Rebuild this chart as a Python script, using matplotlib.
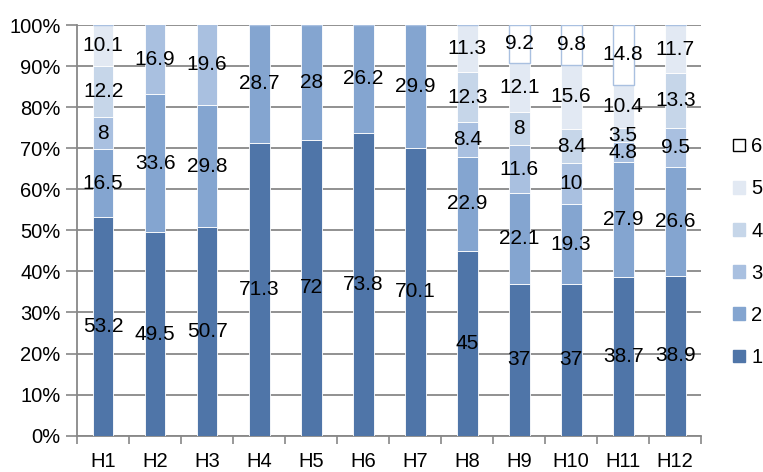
import numpy as np
import matplotlib.pyplot as plt
from matplotlib.patches import Patch
from matplotlib.ticker import PercentFormatter

plt.rcParams['font.family'] = ['Liberation Sans', 'DejaVu Sans']

groups = ['H1', 'H2', 'H3', 'H4', 'H5', 'H6', 'H7', 'H8', 'H9', 'H10', 'H11', 'H12']
series_names = ['1', '2', '3', '4', '5', '6']

s1 = [53.2, 49.5, 50.7, 71.3, 72, 73.8, 70.1, 45, 37, 37, 38.7, 38.9]
s2 = [16.5, 33.6, 29.8, 28.7, 28, 26.2, 29.9, 22.9, 22.1, 19.3, 27.9, 26.6]
s3 = [8, 16.9, 19.6, 0, 0, 0, 0, 8.4, 11.6, 10, 4.8, 9.5]
s4 = [12.2, 0, 0, 0, 0, 0, 0, 12.3, 8, 8.4, 3.5, 13.3]
s5 = [10.1, 0, 0, 0, 0, 0, 0, 11.3, 12.1, 15.6, 10.4, 11.7]
s6 = [0, 0, 0, 0, 0, 0, 0, 0, 9.2, 9.8, 14.8, 0]

series = [s1, s2, s3, s4, s5, s6]
fills = ['#4f75a8', '#84a5d0', '#a9c0e0', '#c6d6e9', '#e2e9f3', 'white']
edges = ['white', 'white', 'white', 'white', 'white', '#a9c0e0']

fig, ax = plt.subplots(figsize=(7.63, 4.72), dpi=100)
fig.subplots_adjust(left=0.101, right=0.919, top=0.947, bottom=0.077)

x = np.arange(len(groups))
bottom = np.zeros(len(groups))
for vals, fc, ec in zip(series, fills, edges):
    vals = np.array(vals, dtype=float)
    ax.bar(x, vals, 0.4, bottom=bottom, color=fc, edgecolor=ec,
           linewidth=1.0 if fc == 'white' else 0.6, zorder=3)
    for xi, b, v in zip(x, bottom, vals):
        if v > 0:
            ax.text(xi, b + v / 2, f'{v:g}', ha='center', va='center',
                    fontsize=15, color='black', zorder=4)
    bottom += vals

ax.set_xlim(-0.5, len(groups) - 0.5)
ax.set_ylim(0, 100)
ax.set_yticks(np.arange(0, 101, 10))
ax.yaxis.set_major_formatter(PercentFormatter(decimals=0))
ax.set_xticks(x)
ax.set_xticklabels(groups)
ax.set_xticks(np.arange(-0.5, len(groups), 1), minor=True)
ax.tick_params(axis='x', which='major', length=0, pad=12, labelsize=14.5)
ax.tick_params(axis='x', which='minor', length=6, width=1.2, color='#888888')
ax.tick_params(axis='y', length=8, width=1.2, color='#888888', labelsize=14.5, pad=4)

ax.grid(axis='y', color='#888888', linewidth=1.3, zorder=0)
for side in ['top', 'right']:
    ax.spines[side].set_visible(False)
for side in ['left', 'bottom']:
    ax.spines[side].set_color('#888888')
    ax.spines[side].set_linewidth(1.3)

handles = []
for name, fc in zip(series_names, fills):
    ec = 'black' if fc == 'white' else fc
    handles.append(Patch(facecolor=fc, edgecolor=ec, linewidth=1.0, label=name))
ax.legend(handles=handles[::-1], loc='center left', bbox_to_anchor=(1.035, 0.447),
          frameon=False, fontsize=14.5, handlelength=0.6, handleheight=0.6,
          handletextpad=0.3, labelspacing=1.15, borderpad=0)

fig.savefig('out.png', dpi=100)
